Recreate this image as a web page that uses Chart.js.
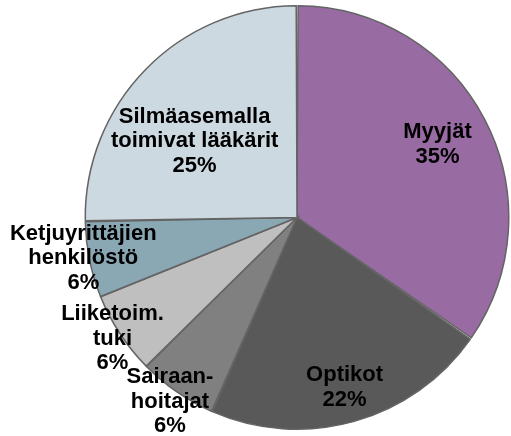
<!DOCTYPE html>
<html>
<head>
<meta charset="utf-8">
<script src="https://cdn.jsdelivr.net/npm/chart.js@4"></script>
<style>
  html, body { margin: 0; padding: 0; background: #ffffff; }
  #wrap { width: 511px; height: 436px; position: relative; }
</style>
</head>
<body>
<div id="wrap"><canvas id="c" width="511" height="436"></canvas></div>
<script>
// ---- data ----
const categories = [
  ["Myyjät"],
  ["Optikot"],
  ["Sairaan-", "hoitajat"],
  ["Liiketoim.", "tuki"],
  ["Ketjuyrittäjien", "henkilöstö"],
  ["Silmäasemalla", "toimivat lääkärit"]
];
const shares = [34.7, 21.9, 6.0, 6.3, 5.8, 25.3];

// ---- styling (not data) ----
const sliceColors = ["#996BA3", "#595959", "#808080", "#BFBFBF", "#8AA7B4", "#CDD9E0"];
const labelRadius = [0.75, 0.835, 1.06, 1.045, 1.03, 0.605];
const labelAngleShift = [0, 0, 0, 0, 0.012, -0.134];
const labelFont = 'bold 22px "Liberation Sans", Arial, sans-serif';
const lineHeight = 24.5;

const labelPlugin = {
  id: 'sliceLabels',
  afterDatasetsDraw(chart) {
    const ctx = chart.ctx;
    const meta = chart.getDatasetMeta(0);
    ctx.save();
    ctx.font = labelFont;
    ctx.fillStyle = '#000000';
    ctx.textAlign = 'center';
    ctx.textBaseline = 'middle';
    meta.data.forEach((arc, i) => {
      const p = arc.getProps(['x', 'y', 'startAngle', 'endAngle', 'outerRadius'], true);
      const mid = (p.startAngle + p.endAngle) / 2 + labelAngleShift[i];
      const r = p.outerRadius * labelRadius[i];
      const cx = p.x + Math.cos(mid) * r;
      const cy = p.y + Math.sin(mid) * r;
      const lines = categories[i].concat([Math.round(shares[i]) + '%']);
      const top = cy - (lines.length - 1) * lineHeight / 2;
      lines.forEach((t, k) => ctx.fillText(t, cx, top + k * lineHeight));
    });
    ctx.restore();
  }
};

new Chart(document.getElementById('c'), {
  type: 'pie',
  data: {
    labels: categories.map(c => c.join(' ')),
    datasets: [{
      data: shares,
      backgroundColor: sliceColors,
      borderColor: '#646464',
      borderWidth: 1.5,
      borderJoinStyle: 'miter',
      spacing: 1
    }]
  },
  options: {
    responsive: false,
    animation: false,
    devicePixelRatio: 1,
    layout: { padding: { left: 83, right: 0, top: 5, bottom: 6 } },
    plugins: {
      legend: { display: false },
      tooltip: { enabled: false }
    }
  },
  plugins: [labelPlugin]
});
</script>
</body>
</html>
